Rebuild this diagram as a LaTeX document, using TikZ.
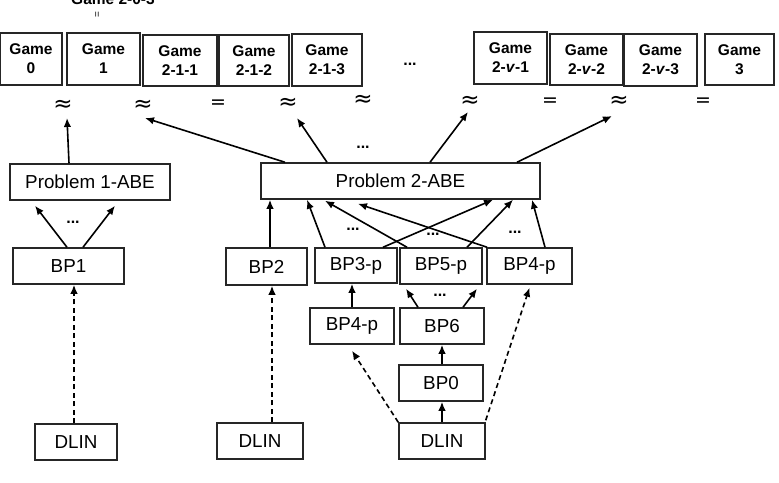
\documentclass[tikz,border=0pt]{standalone}
\usepackage{fontspec}
\setmainfont{Liberation Sans}
\newfontfamily\symfont{DejaVu Sans}
\usetikzlibrary{arrows.meta}
\begin{document}
\begin{tikzpicture}[x=1pt,y=-1pt,
  box/.style={draw=black!85,line width=1.5pt,inner sep=0pt,align=center,font=\fontsize{18.8}{20}\selectfont},
  gbox/.style={draw=black!85,line width=1.5pt,inner sep=0pt,align=center,font=\fontsize{15.5}{19}\selectfont\bfseries},
  arr/.style={line width=1.6pt,-{Latex[length=9pt,width=7.5pt]}},
  darr/.style={arr,dash pattern=on 5pt off 3.5pt},
  apx/.style={inner sep=0pt,font=\fontsize{23}{23}\selectfont\symfont},
  eqs/.style={inner sep=0pt,font=\fontsize{19}{19}\selectfont\symfont},
  dots/.style={inner sep=0pt,font=\fontsize{16}{16}\selectfont\bfseries}]
\useasboundingbox (0,0) rectangle (779,482);
% top clipped label
\node[inner sep=0pt,anchor=base,font=\fontsize{15.5}{18}\selectfont\bfseries] (gtop) at (113,4) {Game 2-0-3};
\node[inner sep=0pt,rotate=90,font=\fontsize{10}{10}\selectfont] (gtopeq) at (98,15) {=};
% games
\node[gbox,minimum width=62,minimum height=52] (g0) at (31,59) {Game\\0};
\node[gbox,minimum width=73,minimum height=52] (g1) at (103.5,59) {Game\\1};
\node[gbox,minimum width=74,minimum height=51] (g211) at (180,60.5) {Game\\2-1-1};
\node[gbox,minimum width=70,minimum height=51] (g212) at (254,60.5) {Game\\2-1-2};
\node[gbox,minimum width=70,minimum height=52] (g213) at (327,60) {Game\\2-1-3};
\node[dots] (gdots) at (410,64) {...};
\node[gbox,minimum width=73,minimum height=52] (gv1) at (510.5,58) {Game\\2-\textit{v}-1};
\node[gbox,minimum width=73,minimum height=51] (gv2) at (586.5,59.5) {Game\\2-\textit{v}-2};
\node[gbox,minimum width=73,minimum height=52] (gv3) at (660.5,60) {Game\\2-\textit{v}-3};
\node[gbox,minimum width=69,minimum height=51] (g3) at (739.5,59.5) {Game\\3};
% relation symbols
\node[apx] (a0) at (63,106) {≈};
\node[apx] (a1) at (143,106) {≈};
\node[eqs] (e2) at (218,104) {=};
\node[apx] (a3) at (288,104) {≈};
\node[apx] (a4) at (363,101) {≈};
\node[apx] (a5) at (470,102) {≈};
\node[eqs] (e6) at (550,102) {=};
\node[apx] (a7) at (619,102) {≈};
\node[eqs] (e8) at (703,102) {=};
% problems
\node[box,minimum width=160,minimum height=36] (p1) at (90,182) {Problem 1-ABE};
\node[box,minimum width=279,minimum height=36] (p2) at (400.5,181) {Problem 2-ABE};
\node[dots] (p2dots) at (363,147) {...};
% BP row
\node[box,minimum width=111,minimum height=36] (bp1) at (68.5,266) {BP1};
\node[box,minimum width=81,minimum height=37] (bp2) at (266.5,266.5) {BP2};
\node[box,minimum width=82,minimum height=35] (bp3) at (356,265.5) {BP3-p};
\node[box,minimum width=82,minimum height=36] (bp5) at (441,266) {BP5-p};
\node[box,minimum width=85,minimum height=36] (bp4t) at (529.5,266) {BP4-p};
\node[box,minimum width=84,minimum height=36] (bp4l) at (352,326) {BP4-p};
\node[box,minimum width=84,minimum height=36] (bp6) at (442,326) {BP6};
\node[box,minimum width=84,minimum height=36] (bp0) at (441,383) {BP0};
\node[box,minimum width=82,minimum height=36] (dl1) at (76,442) {DLIN};
\node[box,minimum width=86,minimum height=36] (dl2) at (260,441) {DLIN};
\node[box,minimum width=86,minimum height=36] (dl3) at (442,441) {DLIN};
% dots
\node[dots] (d1) at (73,222) {...};
\node[dots] (d2) at (353,229) {...};
\node[dots] (d3) at (433,234) {...};
\node[dots] (d4) at (515,232) {...};
\node[dots] (d5) at (440,295) {...};
% arrows to relation symbols
\draw[arr] ([xshift=-21]p1.north) -- ([xshift=4,yshift=-12]a0.center);
\draw[arr] ([xshift=-115.5]p2.north) -- ([xshift=2,yshift=-12]a1.center);
\draw[arr] ([xshift=-73.5]p2.north) -- ([xshift=9,yshift=-14]a3.center);
\draw[arr] ([xshift=29.5]p2.north) -- ([xshift=-2,yshift=-10]a5.center);
\draw[arr] ([xshift=116.5]p2.north) -- ([xshift=-7,yshift=-14]a7.center);
% BP1 -> P1
\draw[arr] ([xshift=-1.5]bp1.north) -- ([xshift=-55,yshift=-5]p1.south);
\draw[arr] ([xshift=14.5]bp1.north) -- ([xshift=25,yshift=-5]p1.south);
% to P2
\draw[arr] ([xshift=3.5]bp2.north) -- ([xshift=3.5]bp2.north |- p2.south);
\draw[arr] ([xshift=-31]bp3.north) -- ([xshift=-93.5]p2.south);
\draw[arr] ([xshift=-34]bp5.north) -- ([xshift=-75.5,yshift=-1]p2.south);
\draw[arr] ([xshift=-42.5]bp4t.north) -- ([xshift=-42.5,yshift=-4]p2.south);
\draw[arr] ([xshift=27]bp3.north) -- ([xshift=92.5]p2.south);
\draw[arr] ([xshift=26]bp5.north) -- ([xshift=112.5]p2.south);
\draw[arr] ([xshift=15.5]bp4t.north) -- ([xshift=131.5]p2.south);
% lower
\draw[arr] (bp4l.north) -- (bp4l.north |- bp3.south);
\draw[arr] ([xshift=-24]bp6.north) -- ([xshift=-35,yshift=-4]bp5.south);
\draw[arr] ([xshift=21]bp6.north) -- ([xshift=36,yshift=-4]bp5.south);
\draw[arr] ([xshift=1]bp0.north) -- ([xshift=1]bp0.north |- bp6.south);
\draw[arr] (dl3.north) -- (dl3.north |- bp0.south);
\draw[darr] (dl3.north west) -- ([yshift=-6]bp4l.south);
\draw[darr] ([yshift=2]dl3.north east) -- ([yshift=-3]bp4t.south);
\draw[darr] ([xshift=-2]dl1.north) -- ([xshift=-2]dl1.north |- bp1.south);
\draw[darr] ([xshift=12]dl2.north) -- ([xshift=12]dl2.north |- bp2.south);
\end{tikzpicture}
\end{document}
